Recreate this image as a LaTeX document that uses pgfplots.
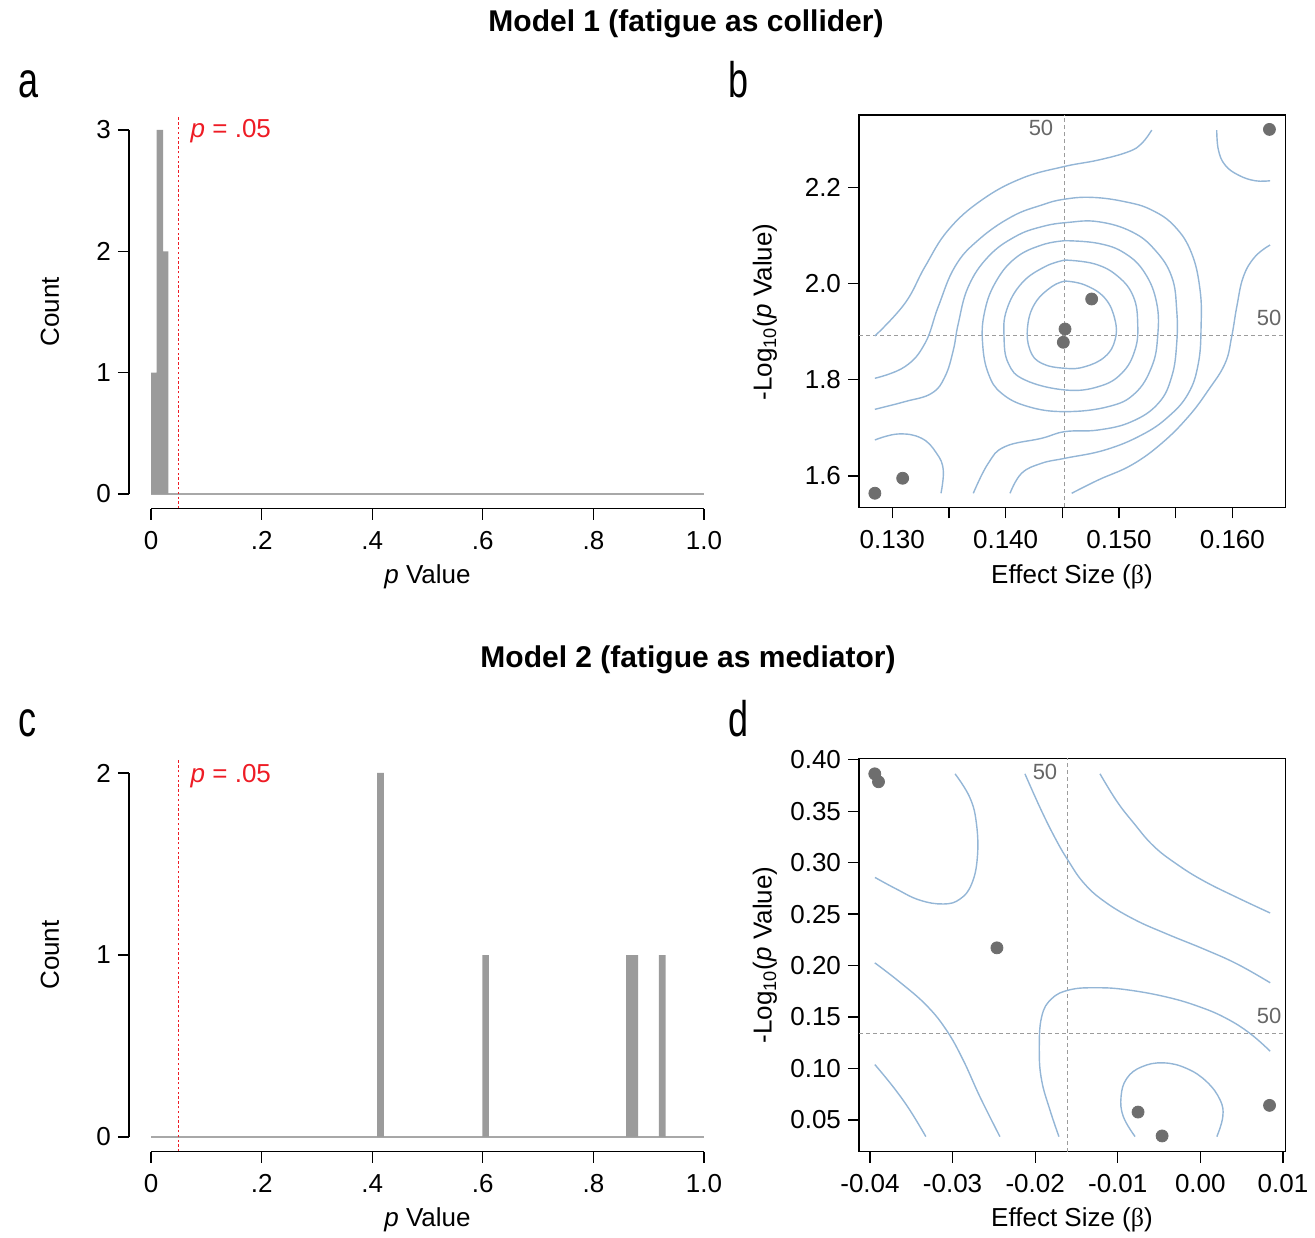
\documentclass[border=0pt]{standalone}
\usepackage{pgfplots}
\pgfplotsset{compat=1.18}
\usepackage{fontspec}
\setmainfont{Liberation Sans}
\newfontfamily\condfont[FakeStretch=0.72]{Liberation Sans}
\newfontfamily\symfont{Liberation Serif}

\definecolor{bargray}{HTML}{9B9B9B}
\definecolor{basegray}{HTML}{A8A8A8}
\definecolor{ptgray}{HTML}{6E6E6E}
\definecolor{contour}{HTML}{94B6D6}
\definecolor{refgray}{HTML}{9C9C9C}
\definecolor{pred}{HTML}{EE1C25}
\definecolor{lab50}{HTML}{666666}

\newcommand\tk{\fontsize{13}{15}\selectfont}

\pgfplotsset{
  hist/.style={
    scale only axis, clip=false,
    width=298.6pt, height=196.6pt,
    xmin=-0.04, xmax=1.04,
    axis x line*=bottom, axis y line*=left,
    axis line style={draw=none},
    tick align=outside, major tick length=5.5pt,
    tick style={black, line width=0.6pt},
    xtick={0,0.2,0.4,0.6,0.8,1}, xticklabels={0,.2,.4,.6,.8,1.0},
    tick label style={font=\tk},
    xticklabel style={yshift=-2.5pt},
  },
  scat/.style={
    scale only axis, clip=false,
    width=213.15pt,
    scaled ticks=false,
    axis line style={black, line width=0.6pt},
    tick align=outside, major tick length=5.5pt,
    tick style={black, line width=0.6pt},
    xtick pos=left, ytick pos=left,
    tick label style={font=\tk},
    xticklabel style={yshift=-2.5pt},
  },
  cline/.style={contour, line width=0.7pt, smooth, tension=0.7},
  ref/.style={refgray, line width=0.7pt, dash pattern=on 2pt off 1.5pt},
  dots/.style={only marks, mark=*, mark size=3pt, color=ptgray},
}

\begin{document}
\begin{tikzpicture}[x=0.5pt, y=0.5pt]
\path[use as bounding box] (0,0) rectangle (1315,1237);

% ---------- panel a ----------
\begin{axis}[hist, at={(64.45pt,364.2pt)}, anchor=south west,
    ymin=-0.12, ymax=3.12, ytick={0,1,2,3}, yticklabels={0,1,2,3}]
  \addplot[basegray, line width=0.6pt] coordinates {(0,0)(1,0)};
  \addplot[ybar interval, fill=bargray, draw=none] coordinates {(0,1)(0.0103,3)(0.022,2)(0.0313,2)};
  \addplot[pred, line width=0.8pt, dash pattern=on 1.2pt off 1.2pt] coordinates {(0.05,-0.12)(0.05,3.12)};
  \addplot[black, line width=0.6pt] coordinates {(0,-0.12)(1,-0.12)};
  \addplot[black, line width=0.6pt] coordinates {(-0.04,0)(-0.04,3)};
  \node[anchor=west, text=pred, font=\tk] at (axis cs:0.059,2.99) {\textit{p} = .05};
\end{axis}

% ---------- panel c ----------
\begin{axis}[hist, at={(64.45pt,42.7pt)}, anchor=south west,
    ymin=-0.08, ymax=2.08, ytick={0,1,2}, yticklabels={0,1,2}]
  \addplot[basegray, line width=0.6pt] coordinates {(0,0)(1,0)};
  \addplot[ybar interval, fill=bargray, draw=none] coordinates
    {(0.409,2)(0.421,0)(0.599,1)(0.611,0)(0.859,1)(0.870,1)(0.881,0)(0.9186,1)(0.9307,1)};
  \addplot[pred, line width=0.8pt, dash pattern=on 1.2pt off 1.2pt] coordinates {(0.05,-0.08)(0.05,2.08)};
  \addplot[black, line width=0.6pt] coordinates {(0,-0.08)(1,-0.08)};
  \addplot[black, line width=0.6pt] coordinates {(-0.04,0)(-0.04,2)};
  \node[anchor=west, text=pred, font=\tk] at (axis cs:0.059,1.98) {\textit{p} = .05};
\end{axis}

% ---------- panel b ----------
\begin{axis}[scat, at={(429.5pt,364.75pt)}, anchor=south west, height=196.25pt,
    xmin=0.12707, xmax=0.16467, ymin=1.5343, ymax=2.3515,
    xtick={0.130,0.135,0.140,0.145,0.150,0.155,0.160},
    xticklabels={0.130,,0.140,,0.150,,0.160},
    ytick={1.6,1.8,2.0,2.2}, yticklabels={1.6,1.8,2.0,2.2}]
  \addplot[ref] coordinates {(0.14517,1.5343)(0.14517,2.3515)};
  \addplot[ref] coordinates {(0.12707,1.8921)(0.16467,1.8921)};
  % outer open contours
  \addplot[cline] coordinates {(0.12847,1.8914)(0.13112,1.9594)(0.13289,2.0357)(0.13494,2.1120)(0.13789,2.1744)(0.14141,2.2195)(0.14509,2.2438)(0.14818,2.2577)(0.15083,2.2750)(0.15200,2.2923)(0.15289,2.3201)};
  \addplot[cline] coordinates {(0.12847,1.8033)(0.13112,1.8275)(0.13289,1.8761)(0.13406,1.9524)(0.13553,2.0357)(0.13759,2.0912)(0.14053,2.1397)(0.14318,2.1640)(0.14509,2.1758)(0.14759,2.1800)(0.15053,2.1709)(0.15289,2.1536)(0.15494,2.1189)(0.15641,2.0634)(0.15715,1.9871)(0.15724,1.9108)(0.15700,1.8345)(0.15612,1.7720)(0.15436,1.7235)(0.15200,1.6853)(0.14877,1.6541)(0.14524,1.6368)(0.14318,1.6264)(0.14141,1.6055)(0.14039,1.5639)};
  \addplot[cline] coordinates {(0.12847,1.7387)(0.13112,1.7547)(0.13347,1.7720)(0.13465,1.8067)(0.13539,1.8622)(0.13583,1.9177)(0.13671,1.9940)(0.13847,2.0565)(0.14083,2.0981)(0.14318,2.1189)(0.14553,2.1279)(0.14818,2.1293)(0.15112,2.1085)(0.15318,2.0703)(0.15465,2.0148)(0.15509,1.9455)(0.15509,1.8761)(0.15465,1.8067)(0.15347,1.7512)(0.15112,1.7131)(0.14818,1.6957)(0.14524,1.6923)(0.14318,1.6784)(0.13994,1.6610)(0.13847,1.6264)(0.13715,1.5639)};
  % closed rings
  \addplot[cline] coordinates {(0.14524,2.0898)(0.14818,2.0842)(0.15053,2.0634)(0.15230,2.0218)(0.15333,1.9594)(0.15341,1.8900)(0.15289,1.8275)(0.15141,1.7720)(0.14906,1.7443)(0.14524,1.7339)(0.14200,1.7443)(0.13965,1.7720)(0.13847,1.8137)(0.13797,1.8761)(0.13812,1.9385)(0.13906,2.0010)(0.14083,2.0530)(0.14318,2.0808)(0.14524,2.0898)};
  \addplot[cline] coordinates {(0.14524,2.0495)(0.14789,2.0412)(0.14994,2.0148)(0.15127,1.9732)(0.15165,1.9177)(0.15141,1.8622)(0.15024,1.8137)(0.14818,1.7859)(0.14524,1.7790)(0.14171,1.7998)(0.14024,1.8345)(0.13986,1.8900)(0.14009,1.9455)(0.14141,2.0010)(0.14347,2.0357)(0.14524,2.0495)};
  \addplot[cline] coordinates {(0.14524,2.0058)(0.14700,1.9975)(0.14877,1.9698)(0.14965,1.9247)(0.14965,1.8830)(0.14877,1.8484)(0.14700,1.8275)(0.14524,1.8241)(0.14318,1.8345)(0.14215,1.8622)(0.14194,1.9108)(0.14259,1.9594)(0.14406,1.9940)(0.14524,2.0058)};
  % corner contours
  \addplot[cline] coordinates {(0.12847,1.6749)(0.13053,1.6874)(0.13259,1.6784)(0.13391,1.6472)(0.13450,1.6125)(0.13430,1.5639)};
  \addplot[cline] coordinates {(0.14583,1.5639)(0.14818,1.5917)(0.15112,1.6229)(0.15377,1.6680)(0.15612,1.7235)(0.15789,1.7790)(0.15936,1.8345)(0.15994,1.8900)(0.16039,1.9524)(0.16097,2.0148)(0.16200,2.0565)(0.16333,2.0808)};
  \addplot[cline] coordinates {(0.15862,2.3201)(0.15877,2.2785)(0.15936,2.2472)(0.16053,2.2264)(0.16200,2.2146)(0.16333,2.2146)};
  \addplot[dots] coordinates {(0.12847,1.5640)(0.13092,1.5952)(0.14509,1.8783)(0.14524,1.9059)(0.14759,1.9684)(0.16327,2.3215)};
  \node[text=lab50, font=\fontsize{11}{13}\selectfont] at (axis cs:0.14312,2.3242) {50};
  \node[text=lab50, font=\fontsize{11}{13}\selectfont] at (axis cs:0.16324,1.9288) {50};
\end{axis}

% ---------- panel d ----------
\begin{axis}[scat, at={(429.5pt,42.7pt)}, anchor=south west, height=196.6pt,
    xmin=-0.04133, xmax=0.01029, ymin=0.0193, ymax=0.4012,
    xtick={-0.04,-0.03,-0.02,-0.01,0,0.01},
    xticklabels={-0.04,-0.03,-0.02,-0.01,0.00,0.01},
    ytick={0.05,0.10,0.15,0.20,0.25,0.30,0.35,0.40},
    yticklabels={0.05,0.10,0.15,0.20,0.25,0.30,0.35,0.40}]
  \addplot[ref] coordinates {(-0.0161,0.0193)(-0.0161,0.4012)};
  \addplot[ref] coordinates {(-0.04133,0.1342)(0.01029,0.1342)};
  \addplot[cline] coordinates {(-0.0394,0.2856)(-0.0368,0.2743)(-0.0340,0.2636)(-0.0311,0.2598)(-0.0291,0.2646)(-0.0277,0.2791)(-0.0270,0.3049)(-0.0271,0.3372)(-0.0279,0.3630)(-0.0297,0.3862)};
  \addplot[cline] coordinates {(-0.03942,0.20263)(-0.03639,0.18391)(-0.03316,0.16133)(-0.03073,0.13712)(-0.02871,0.10808)(-0.02669,0.07259)(-0.02427,0.03387)};
  \addplot[cline] coordinates {(-0.03942,0.10389)(-0.03720,0.08227)(-0.03518,0.05968)(-0.03324,0.03387)};
  \addplot[cline] coordinates {(-0.02124,0.38624)(-0.01922,0.35010)(-0.01740,0.32106)(-0.01598,0.30169)(-0.01417,0.28072)(-0.01174,0.26297)(-0.00811,0.24522)(-0.00406,0.23070)(0.00038,0.21618)(0.00442,0.20166)(0.00846,0.18327)};
  \addplot[cline] coordinates {(-0.01215,0.38624)(-0.01013,0.35978)(-0.00811,0.33880)(-0.00568,0.31621)(-0.00285,0.29847)(0.00038,0.28233)(0.00442,0.26620)(0.00846,0.25103)};
  \addplot[cline] coordinates {(-0.01712,0.03387)(-0.01821,0.05968)(-0.01922,0.08872)(-0.01950,0.11776)(-0.01922,0.15003)(-0.01800,0.16778)(-0.01578,0.17649)(-0.01255,0.17843)(-0.00891,0.17649)(-0.00406,0.16939)(-0.00002,0.15971)(0.00321,0.14842)(0.00604,0.13390)(0.00846,0.11680)};
  \addplot[cline] coordinates {(-0.00790,0.03387)(-0.00932,0.05323)(-0.00960,0.07259)(-0.00891,0.09034)(-0.00710,0.10163)(-0.00447,0.10550)(-0.00164,0.10002)(0.00078,0.08711)(0.00240,0.06936)(0.00272,0.05323)(0.00200,0.03387)};
  \addplot[dots] coordinates {(-0.03942,0.3862)(-0.03897,0.3785)(-0.02463,0.2172)(-0.00754,0.0577)(-0.00463,0.0345)(0.00838,0.0642)};
  \node[text=lab50, font=\fontsize{11}{13}\selectfont] at (axis cs:-0.01881,0.3877) {50};
  \node[text=lab50, font=\fontsize{11}{13}\selectfont] at (axis cs:0.00834,0.1506) {50};
\end{axis}

% ---------- titles and labels ----------
\node[font=\fontsize{15}{18}\selectfont\bfseries] at (686,1213) {Model 1 (fatigue as collider)};
\node[font=\fontsize{15}{18}\selectfont\bfseries] at (688,577) {Model 2 (fatigue as mediator)};
\node[anchor=base west, font=\fontsize{25}{30}\selectfont\condfont] at (11,1139) {a};
\node[anchor=base west, font=\fontsize{25}{30}\selectfont\condfont] at (721,1139) {b};
\node[anchor=base west, font=\fontsize{25}{30}\selectfont\condfont] at (11,500) {c};
\node[anchor=base west, font=\fontsize{25}{30}\selectfont\condfont] at (721,500) {d};
\node[rotate=90, font=\tk] at (50,925) {Count};
\node[rotate=90, font=\tk] at (50,282) {Count};
\node[font=\tk] at (427.5,660) {\textit{p} Value};
\node[font=\tk] at (427.5,17) {\textit{p} Value};
\node[rotate=90, font=\tk] at (765,925) {-Log\textsubscript{10}(\textit{p} Value)};
\node[rotate=90, font=\tk] at (765,282) {-Log\textsubscript{10}(\textit{p} Value)};
\node[font=\tk] at (1072,660) {Effect Size ({\symfont β})};
\node[font=\tk] at (1072,17) {Effect Size ({\symfont β})};
\end{tikzpicture}
\end{document}
